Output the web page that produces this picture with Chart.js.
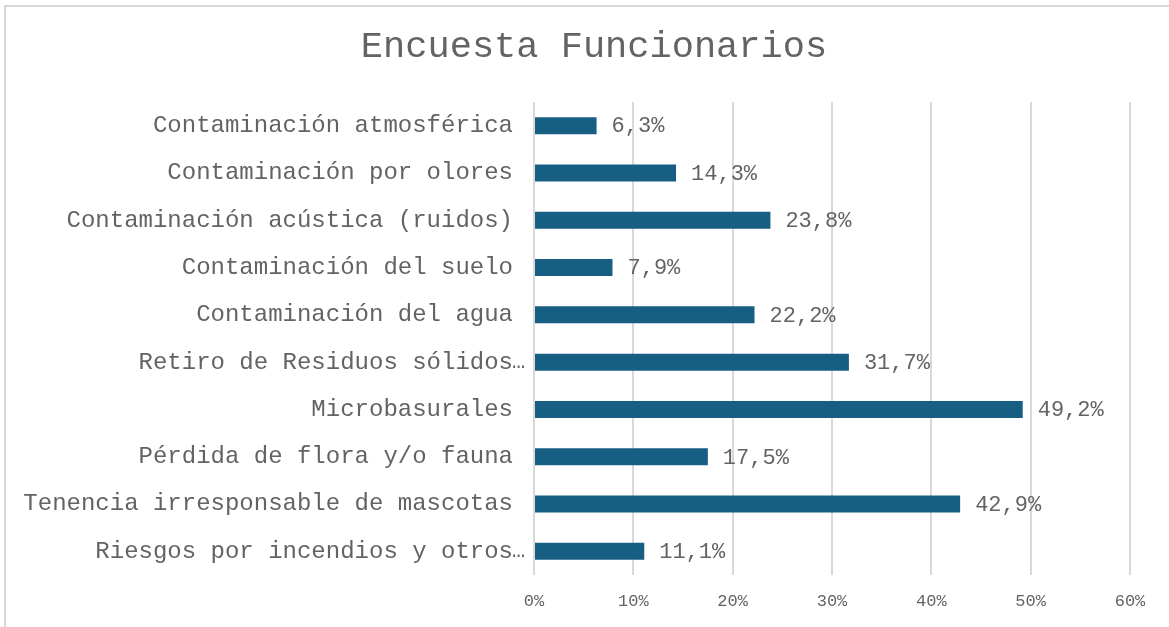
<!DOCTYPE html>
<html>
<head>
<meta charset="utf-8">
<script src="https://cdn.jsdelivr.net/npm/chart.js@4"></script>
<style>
    body { margin: 0; overflow: hidden; background: #fff; }
    #frame {
        position: absolute; left: 4px; top: 5px;
        width: 1300px; height: 700px;
        border: 2px solid #d9d9d9;
    }
    #chart1 { position: absolute; left: 0; top: 0; }
</style>
</head>
<body>
<div id="frame"></div>
<canvas id="chart1" width="1169" height="627"></canvas>
<script>
// DATA
var categories = [
    "Contaminación atmosférica",
    "Contaminación por olores",
    "Contaminación acústica (ruidos)",
    "Contaminación del suelo",
    "Contaminación del agua",
    "Retiro de Residuos sólidos…",
    "Microbasurales",
    "Pérdida de flora y/o fauna",
    "Tenencia irresponsable de mascotas",
    "Riesgos por incendios y otros…"
];
var percentages = [6.3, 14.3, 23.8, 7.9, 22.2, 31.7, 49.2, 17.5, 42.9, 11.1];
var xTicks = [0, 10, 20, 30, 40, 50, 60];

var FONT = "'Liberation Mono', 'Courier New', monospace";
var GREY = '#636363';
var LABEL_PAD = 21;

function pct(v) {
    return v.toFixed(1).replace('.', ',') + '%';
}

// title sits centred over the whole frame, not only over the plot
var shiftTitle = {
    id: 'shiftTitle',
    afterLayout: function (chart) {
        if (chart.titleBlock) chart.titleBlock.left = 58;
    }
};

// value labels at the end of each bar + the hanging "…" of cut category names
var barLabels = {
    id: 'barLabels',
    afterDatasetsDraw: function (chart) {
        var ctx = chart.ctx;
        var meta = chart.getDatasetMeta(0);
        ctx.save();
        ctx.font = '22px ' + FONT;
        ctx.fillStyle = GREY;
        ctx.textAlign = 'left';
        ctx.textBaseline = 'middle';
        meta.data.forEach(function (bar, i) {
            ctx.fillText(pct(percentages[i]), bar.x + 15, bar.y + 1);
        });

        var yScale = chart.scales.y;
        categories.forEach(function (c, i) {
            if (c.slice(-1) === '…') {
                ctx.fillText('…', yScale.right - LABEL_PAD - 1, yScale.getPixelForTick(i));
            }
        });
        ctx.restore();
    }
};

var ctxChart1 = document.getElementById('chart1').getContext('2d');
var chart1 = new Chart(ctxChart1, {
    type: 'bar',
    plugins: [shiftTitle, barLabels],
    data: {
        labels: categories,
        datasets: [{
            data: percentages,
            backgroundColor: '#175e83',
            barPercentage: 0.72,
            categoryPercentage: 0.5
        }]
    },
    options: {
        indexAxis: 'y',
        responsive: false,
        animation: false,
        layout: { padding: { left: 0, right: 39, top: 0, bottom: 0 } },
        plugins: {
            legend: { display: false },
            tooltip: { enabled: false },
            title: {
                display: true,
                text: 'Encuesta Funcionarios',
                color: GREY,
                font: { family: FONT, size: 37, weight: 'normal', lineHeight: 1.2 },
                padding: { top: 25, bottom: 32.6 }
            }
        },
        scales: {
            x: {
                min: 0,
                max: 60,
                afterBuildTicks: function (scale) {
                    scale.ticks = xTicks.map(function (v) { return { value: v }; });
                },
                afterFit: function (scale) { scale.height = 52; },
                grid: { color: '#d9d9d9', lineWidth: 2, drawTicks: false },
                border: { display: false },
                ticks: {
                    color: GREY,
                    padding: 16,
                    font: { family: FONT, size: 17 },
                    callback: function (v) { return v + '%'; }
                }
            },
            y: {
                afterFit: function (scale) { scale.width = 534; },
                grid: { display: false, drawTicks: false },
                border: { display: false },
                ticks: {
                    color: GREY,
                    padding: LABEL_PAD,
                    font: { family: FONT, size: 24 },
                    autoSkip: false,
                    callback: function (v, i) {
                        return categories[i].replace(/…$/, '');
                    }
                }
            }
        }
    }
});
</script>
</body>
</html>
